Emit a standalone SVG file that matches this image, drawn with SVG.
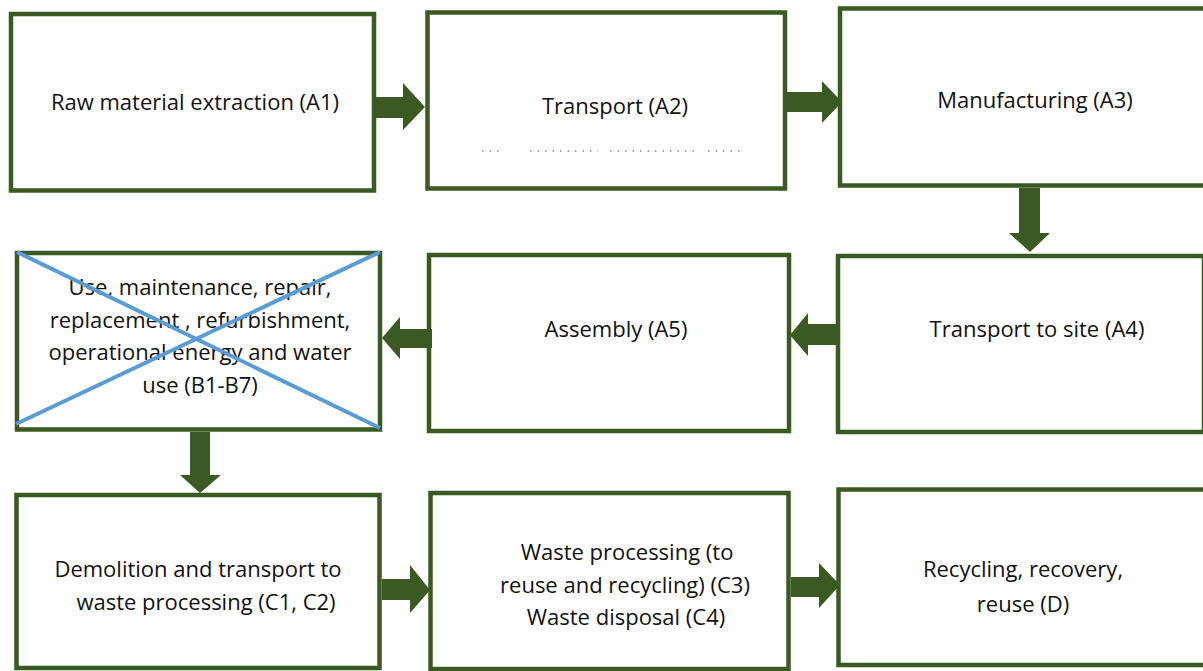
<svg xmlns="http://www.w3.org/2000/svg" width="1203" height="671" viewBox="0 0 1203 671">
<style>
.box{fill:#ffffff;stroke:#3B5A23;stroke-width:4.5}
.arr{fill:#3B5A23;stroke:none}
.t{font-family:"Open Sans","Liberation Sans",sans-serif;font-size:22px;fill:#111111;text-anchor:middle}
.x{stroke:#5B9BD5;stroke-width:4;fill:none}
</style>
<rect width="1203" height="671" fill="#ffffff"/>
<g id="n-a1">
<rect class="box" x="11" y="14" width="363" height="176.5"/>
<text class="t" x="195" y="110">Raw material extraction (A1)</text>
</g>
<g id="n-a2">
<rect class="box" x="427.5" y="12.5" width="357.5" height="176"/>
<text class="t" x="615" y="114">Transport (A2)</text>
<path d="M482 151H502M530 151H598M610 151H695M708 151H740" stroke="#8a8a8a" stroke-width="1.5" stroke-dasharray="1.5 6" fill="none"/>
</g>
<g id="n-a3">
<rect class="box" x="840" y="8.5" width="380" height="177"/>
<text class="t" x="1035" y="108">Manufacturing (A3)</text>
</g>
<g id="n-a4">
<rect class="box" x="838" y="256" width="366" height="176"/>
<text class="t" x="1037" y="337">Transport to site (A4)</text>
</g>
<g id="n-a5">
<rect class="box" x="429" y="255" width="360" height="176"/>
<text class="t" x="616" y="337">Assembly (A5)</text>
</g>
<g id="n-b">
<rect class="box" x="17" y="253" width="363" height="176.5"/>
<text class="t" x="200" y="295">Use, maintenance, repair,</text>
<text class="t" x="200" y="328">replacement , refurbishment,</text>
<text class="t" x="200" y="360">operational energy and water</text>
<text class="t" x="200" y="393">use (B1-B7)</text>
<line class="x" x1="17" y1="252" x2="380" y2="428"/>
<line class="x" x1="380" y1="252" x2="16" y2="424"/>
</g>
<g id="n-c1">
<rect class="box" x="16.5" y="495" width="363" height="173"/>
<text class="t" x="198" y="577">Demolition and transport to</text>
<text class="t" x="206" y="610">waste processing (C1, C2)</text>
</g>
<g id="n-c2">
<rect class="box" x="430.5" y="493" width="358" height="176"/>
<text class="t" x="627" y="560">Waste processing (to</text>
<text class="t" x="625" y="593">reuse and recycling) (C3)</text>
<text class="t" x="626" y="625">Waste disposal (C4)</text>
</g>
<g id="n-d">
<rect class="box" x="838.5" y="489.5" width="380" height="175.5"/>
<text class="t" x="1023" y="577">Recycling, recovery,</text>
<text class="t" x="1023" y="612">reuse (D)</text>
</g>
<g id="connectors">
<polygon class="arr" points="374,97 403,97 403,83 425,107 403,130 403,118 374,118"/>
<polygon class="arr" points="787,92 822,92 822,81 842,102 822,123 822,112 787,112"/>
<polygon class="arr" points="1019,188 1040,188 1040,233 1050,233 1030,252 1009,233 1019,233"/>
<polygon class="arr" points="840,324 808,324 808,313 790,335 808,356 808,345 840,345"/>
<polygon class="arr" points="432,329 400,329 400,317 382,338 400,359 400,348 432,348"/>
<polygon class="arr" points="190,432 210,432 210,475 221,475 200,493 180,475 190,475"/>
<polygon class="arr" points="382,579 410,579 410,565 430,590 410,613 410,600 382,600"/>
<polygon class="arr" points="791,577 819,577 819,563 840,585 819,608 819,597 791,597"/>
</g>
</svg>
